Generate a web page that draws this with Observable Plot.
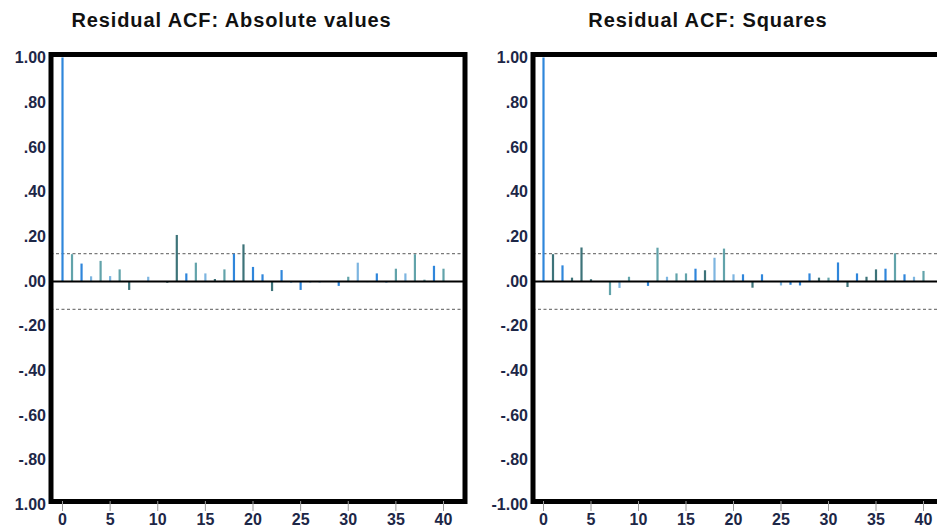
<!DOCTYPE html>
<html>
<head>
<meta charset="utf-8">
<script src="https://cdn.jsdelivr.net/npm/d3@7"></script>
<script src="https://cdn.jsdelivr.net/npm/@observablehq/plot@0.6"></script>
<style>
  html, body { margin: 0; padding: 0; background: #fff; }
  #chart { position: relative; width: 937px; height: 529px; overflow: hidden;
           font-family: "Liberation Sans", Arial, sans-serif; }
  .panel { position: absolute; top: 0; height: 529px; }
  .panel svg { position: absolute; top: 0; left: 0; }
  .title { position: absolute; top: 9px; left: 0; text-align: center; font-weight: bold;
           font-size: 20px; letter-spacing: 0.9px; color: #111; white-space: nowrap; z-index: 2; }
</style>
</head>
<body>
<div id="chart"></div>
<script>
// Lags shown on the horizontal axis
const lags = [0, 1, 2, 3, 4, 5, 6, 7, 8, 9, 10, 11, 12, 13, 14, 15, 16, 17, 18, 19, 20,
              21, 22, 23, 24, 25, 26, 27, 28, 29, 30, 31, 32, 33, 34, 35, 36, 37, 38, 39, 40];

// Residual autocorrelations of the absolute values
const acfAbsolute = [1.00, 0.120, 0.078, 0.021, 0.090, 0.022, 0.052, -0.040, 0.000, 0.019, 0.000,
                     -0.008, 0.206, 0.034, 0.082, 0.034, 0.009, 0.052, 0.122, 0.164, 0.063,
                     0.030, -0.045, 0.049, -0.008, -0.040, -0.007, -0.007, -0.004, -0.022, 0.019,
                     0.082, -0.005, 0.034, -0.008, 0.055, 0.034, 0.120, 0.006, 0.068, 0.055];

// Residual autocorrelations of the squares
const acfSquares = [1.00, 0.120, 0.070, 0.015, 0.150, 0.008, 0.000, -0.063, -0.031, 0.019, 0.000,
                    -0.022, 0.149, 0.019, 0.034, 0.034, 0.055, 0.048, 0.104, 0.145, 0.030,
                    0.030, -0.030, 0.030, 0.000, -0.020, -0.017, -0.020, 0.034, 0.015, 0.015,
                    0.083, -0.027, 0.034, 0.019, 0.052, 0.055, 0.124, 0.030, 0.019, 0.045];

// Shade group of each spike
const tonesAbsolute = ["B","T","B","L","T","L","T","D","L","L","L",
                       "D","D","B","T","L","D","T","B","D","B",
                       "B","D","B","L","B","L","L","L","B","T",
                       "L","L","B","L","T","L","T","T","B","T"];
const tonesSquares = ["B","D","B","D","D","D","L","T","L","T","L",
                      "B","T","L","T","T","B","D","L","T","L",
                      "B","D","B","L","L","B","B","B","D","T",
                      "B","D","B","D","D","B","T","B","L","T"];

// Approximate 95% confidence band
const band = [0.125, -0.125];

// Axis ticks and their labels
const xTicks = [0, 5, 10, 15, 20, 25, 30, 35, 40];
const yTicks = [1, 0.8, 0.6, 0.4, 0.2, 0, -0.2, -0.4, -0.6, -0.8, -1];
const yLabelsAbsolute = ["1.00", ".80", ".60", ".40", ".20", ".00", "-.20", "-.40", "-.60", "-.80", "1.00"];
const yLabelsSquares = ["1.00", ".80", ".60", ".40", ".20", ".00", "-.20", "-.40", "-.60", "-.80", "-1.00"];

const titles = ["Residual ACF: Absolute values", "Residual ACF: Squares"];

const toneNames = ["B", "D", "T", "L"];
const tonePalette = ["#2f86db", "#3d7379", "#62a3aa", "#7db5e0"];
const labelColor = "#1d2747";

function acfPanel({values, tones, yLabels, width, marginLeft, marginRight, xRange}) {
  const rows = lags.map((lag, i) => ({lag, acf: values[i], tone: tones[i]}));
  const labelOf = new Map(yTicks.map((t, i) => [t, yLabels[i]]));
  return Plot.plot({
    width,
    height: 529,
    marginTop: 54,
    marginBottom: 28,
    marginLeft,
    marginRight,
    style: {
      fontFamily: "'Liberation Sans', Arial, sans-serif",
      fontSize: "16px",
      fontWeight: "bold",
      background: "transparent",
      overflow: "visible"
    },
    x: {domain: [0, 40], range: xRange},
    y: {domain: [-1, 1], range: [504.5, 57.5]},
    color: {domain: toneNames, range: tonePalette},
    marks: [
      Plot.ruleY(band, {stroke: "#7a7a7a", strokeWidth: 1.2, strokeDasharray: "3,2.5"}),
      Plot.ruleX(rows, {x: "lag", y1: 0, y2: "acf", stroke: "tone", strokeWidth: 2.2}),
      Plot.ruleY([0], {stroke: "#000", strokeWidth: 2}),
      Plot.frame({stroke: "#000", strokeWidth: 5}),
      Plot.axisY({ticks: yTicks, tickFormat: (d) => labelOf.get(d), tickSize: 0,
                  tickPadding: 5, fill: labelColor, label: null}),
      Plot.axisX({ticks: xTicks, tickSize: 10, tickPadding: 2, stroke: "#9a9a9a",
                  fill: labelColor, label: null})
    ]
  });
}

const chart = document.getElementById("chart");

const panels = [
  {left: 0, titleWidth: 463, opts: {values: acfAbsolute, tones: tonesAbsolute, yLabels: yLabelsAbsolute,
    width: 470, marginLeft: 50.5, marginRight: 5.5, xRange: [62, 443]}},
  {left: 470, titleWidth: 476, opts: {values: acfSquares, tones: tonesSquares, yLabels: yLabelsSquares,
    width: 480, marginLeft: 62.5, marginRight: 4, xRange: [73, 453]}}
];

panels.forEach((p, i) => {
  const div = document.createElement("div");
  div.className = "panel";
  div.style.left = p.left + "px";
  div.style.width = p.opts.width + "px";
  const title = document.createElement("div");
  title.className = "title";
  title.style.width = p.titleWidth + "px";
  title.textContent = titles[i];
  div.appendChild(title);
  div.appendChild(acfPanel(p.opts));
  chart.appendChild(div);
});
</script>
</body>
</html>
